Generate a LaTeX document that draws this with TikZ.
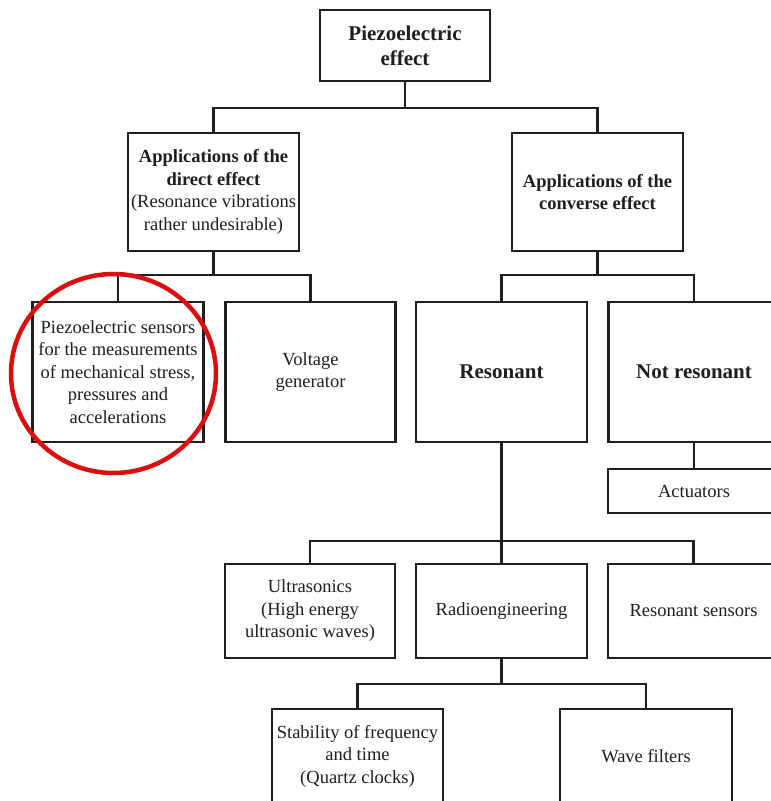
\documentclass[tikz,border=0pt]{standalone}
\usepackage{fontspec}
\setmainfont{Liberation Serif}
\begin{document}
\begin{tikzpicture}[x=1pt,y=-1pt,
  box/.style={draw=black!88, line width=2.2pt, fill=white, inner sep=0pt,
    align=center, text=black!88, font=\fontsize{18.5}{22.5}\selectfont},
  bigbold/.style={font=\fontsize{21}{25}\selectfont\bfseries},
  link/.style={draw=black!88, line width=2.2pt, line cap=rect},
  ring/.style={draw=red!85!black!95, line width=4.5pt}]
\useasboundingbox (0,0) rectangle (771,801);
\clip (0,0) rectangle (771,801);

% level 0
\node[box, bigbold, minimum width=170pt, minimum height=71pt] (top) at (405,45.5)
  {Piezoelectric\\effect};

% level 1
\node[box, minimum width=171pt, minimum height=118pt] (dir) at (213.5,192)
  {\textbf{Applications of the}\\\textbf{direct effect}\\(Resonance vibrations\\rather undesirable)};
\node[box, minimum width=171pt, minimum height=118pt] (conv) at (597.5,192)
  {\textbf{Applications of the}\\\textbf{converse effect}};

% level 2
\node[box, minimum width=171pt, minimum height=140pt] (sens) at (118,372)
  {Piezoelectric sensors\\for the measurements\\of mechanical stress,\\pressures and\\accelerations};
\node[box, minimum width=170pt, minimum height=140pt] (volt) at (310.5,372)
  {Voltage\\generator};
\node[box, bigbold, minimum width=171pt, minimum height=140pt] (res) at (501.5,372)
  {Resonant};
\node[box, bigbold, minimum width=171pt, minimum height=140pt] (notres) at (694,372)
  {Not resonant};
\node[box, minimum width=172pt, minimum height=44pt] (act) at (694,491)
  {Actuators};

% level 3
\node[box, minimum width=170pt, minimum height=94pt] (ultra) at (310,611)
  {Ultrasonics\\(High energy\\ultrasonic waves)};
\node[box, minimum width=171pt, minimum height=94pt] (radio) at (501.5,611)
  {Radioengineering};
\node[box, minimum width=171pt, minimum height=94pt] (rsens) at (693.5,611)
  {Resonant sensors};

% level 4
\node[box, minimum width=171pt, minimum height=94pt] (stab) at (357.5,756)
  {Stability of frequency\\and time\\(Quartz clocks)};
\node[box, minimum width=172pt, minimum height=94pt] (wave) at (646,756)
  {Wave filters};

% connectors
\coordinate (j0) at (top.south |- 0,108);
\draw[link] (top.south) -- (j0);
\draw[link] (j0) -| (dir.north);
\draw[link] (j0) -| (conv.north);

\coordinate (j1) at (dir.south |- 0,275);
\draw[link] (dir.south) -- (j1);
\draw[link] (j1) -| (sens.north);
\draw[link] (j1) -| (volt.north);

\coordinate (j2) at (conv.south |- 0,275);
\draw[link] (conv.south) -- (j2);
\draw[link] (j2) -| (res.north);
\draw[link] (j2) -| (notres.north);

\draw[link] (notres.south) -- (act.north);

\coordinate (j3) at (res.south |- 0,541);
\draw[link] (res.south) -- (j3);
\draw[link] (j3) -| (ultra.north);
\draw[link] (j3) -- (radio.north);
\draw[link] (j3) -| (rsens.north);

\coordinate (j4) at (radio.south |- 0,684);
\draw[link] (radio.south) -- (j4);
\draw[link] (j4) -| (stab.north);
\draw[link] (j4) -| (wave.north);

% highlight around the sensors box
\draw[ring] (113.5,373.5) ellipse [x radius=102.5, y radius=99.5];
\end{tikzpicture}
\end{document}
